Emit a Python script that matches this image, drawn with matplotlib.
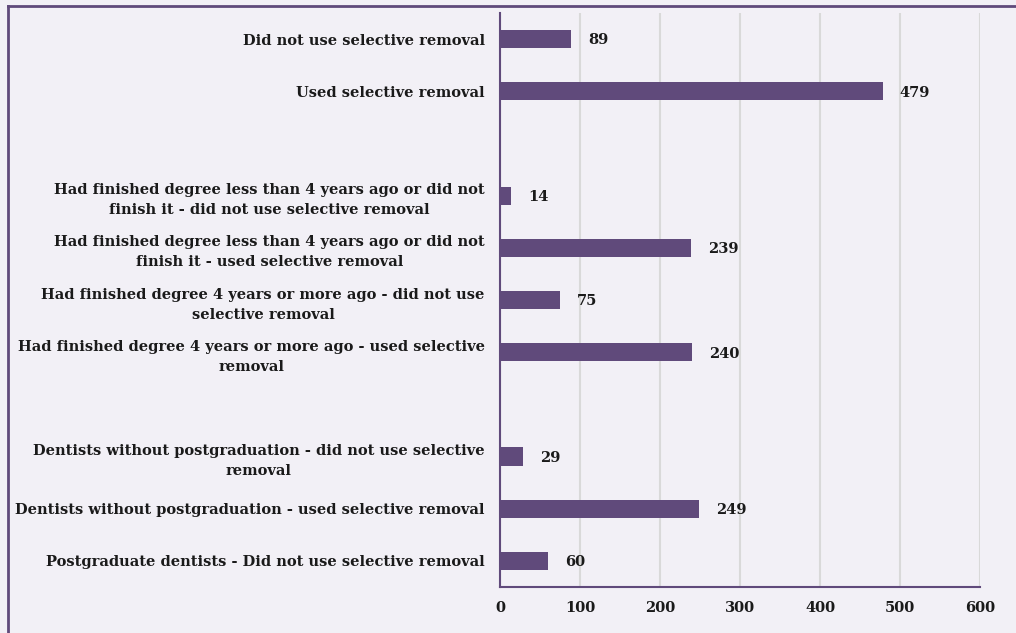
import matplotlib.pyplot as plt
from matplotlib.lines import Line2D

# categories from top to bottom; empty strings leave a gap between groups
labels = [
    'Did not use selective removal',
    'Used selective removal',
    '',
    'Had finished degree less than 4 years ago or did not\nfinish it - did not use selective removal',
    'Had finished degree less than 4 years ago or did not\nfinish it - used selective removal',
    'Had finished degree 4 years or more ago - did not use\nselective removal',
    'Had finished degree 4 years or more ago - used selective\nremoval',
    '',
    'Dentists without postgraduation - did not use selective\nremoval',
    'Dentists without postgraduation - used selective removal',
    'Postgraduate dentists - Did not use selective removal',
]
values = [89, 479, None, 14, 239, 75, 240, None, 29, 249, 60]
xticks = [0, 100, 200, 300, 400, 500, 600]

bar_color = '#604a7b'
bg = '#f2f0f6'
txt = '#1a1a1a'
plt.rcParams['font.family'] = ['DejaVu Serif']

fig = plt.figure(figsize=(10.16, 6.33), dpi=100, facecolor=bg)
ax = fig.add_axes([500 / 1016, 1 - 587 / 633, 480 / 1016, 574 / 633])
ax.set_facecolor(bg)

n = len(labels)
pos = [n - 1 - i for i in range(n)]
for y, v in zip(pos, values):
    if v is None:
        continue
    ax.barh(y, v, height=0.35, color=bar_color, zorder=3)
    ax.annotate(str(v), (v, y), xytext=(12, -1), textcoords='offset points',
                ha='left', va='center', fontsize=10.5, fontweight='bold', color=txt)

ax.set_ylim(-0.5, n - 0.5)
ax.set_xlim(0, 600)
ax.set_yticks(pos)
ax.set_yticklabels(labels, fontsize=10.5, fontweight='bold', color=txt,
                   multialignment='center', linespacing=1.55)
ax.set_xticks(xticks)
ax.set_xticklabels([str(t) for t in xticks], fontsize=10.5, fontweight='bold', color=txt)
ax.tick_params(axis='both', length=0)
ax.tick_params(axis='y', pad=11)
ax.tick_params(axis='x', pad=10)

ax.grid(axis='x', color='#d9d9d9', linewidth=1.5, zorder=0)
for side in ['top', 'right']:
    ax.spines[side].set_visible(False)
for side in ['left', 'bottom']:
    ax.spines[side].set_color(bar_color)
    ax.spines[side].set_linewidth(1.5)
    ax.spines[side].set_zorder(4)

# frame around the chart area (left and top edges)
fig.add_artist(Line2D([8 / 1016, 8 / 1016], [0, 1 - 6 / 633], transform=fig.transFigure,
                      color=bar_color, linewidth=2))
fig.add_artist(Line2D([8 / 1016, 1], [1 - 6 / 633, 1 - 6 / 633], transform=fig.transFigure,
                      color=bar_color, linewidth=2))

fig.savefig('out.png', dpi=100, facecolor=bg)
